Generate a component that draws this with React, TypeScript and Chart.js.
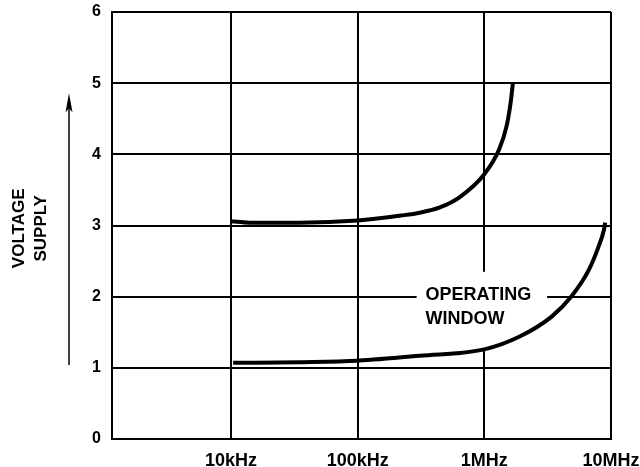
import React, { useEffect, useRef } from "react";
import { Chart, registerables } from "chart.js";

Chart.register(...registerables);

// ---- data ----
const xTickValues = [1e4, 1e5, 1e6, 1e7];
const xTickLabels = ["10kHz", "100kHz", "1MHz", "10MHz"];
const yTickLabels = ["0", "1", "2", "3", "4", "5", "6"];

const upperFreq = [1e4, 1.4e4, 3.5e4, 1e5, 2.2e5, 3.1e5, 4.4e5, 6.4e5, 1e6, 1.31e6, 1.5e6, 1.62e6, 1.68e6];
const upperVolt = [3.06, 3.04, 3.04, 3.07, 3.14, 3.18, 3.25, 3.4, 3.72, 4.07, 4.4, 4.75, 5.0];

const lowerFreq = [1.04e4, 3.5e4, 1e5, 3.1e5, 1e6, 1.9e6, 3.4e6, 4.9e6, 6.7e6, 8.0e6, 8.8e6, 9.0e6];
const lowerVolt = [1.07, 1.08, 1.1, 1.17, 1.26, 1.44, 1.72, 2.01, 2.38, 2.71, 2.94, 3.04];

const yTitleLines = ["VOLTAGE", "SUPPLY"];
const windowLabelLines = ["OPERATING", "WINDOW"];

// annotation placement (data units)
const windowBoxX = [2.92e5, 3.13e6];
const windowBoxY = [1.25, 2.35];
const windowTextX = 3.43e5;
const windowTextY = [1.95, 1.61];
const arrowY = [1.04, 4.86];
const yTitleCenter = 2.96;

const FONT = "'Liberation Sans', Arial, Helvetica, sans-serif";

const toPoints = (xs: number[], ys: number[]) => xs.map((x, i) => ({ x, y: ys[i] }));

const overlayPlugin = {
  id: "overlay",
  beforeDatasetsDraw(chart: any) {
    const { ctx, scales } = chart;
    const x = scales.x;
    const y = scales.y;
    const l = x.getPixelForValue(windowBoxX[0]);
    const r = x.getPixelForValue(windowBoxX[1]);
    const t = y.getPixelForValue(windowBoxY[1]);
    const b = y.getPixelForValue(windowBoxY[0]);
    ctx.save();
    ctx.fillStyle = "#ffffff";
    ctx.fillRect(l, t, r - l, b - t);
    ctx.restore();
  },
  afterDatasetsDraw(chart: any) {
    const { ctx, scales, chartArea } = chart;
    const x = scales.x;
    const y = scales.y;
    ctx.save();
    ctx.fillStyle = "#000";
    ctx.font = `bold 18px ${FONT}`;
    ctx.textAlign = "left";
    ctx.textBaseline = "alphabetic";
    windowLabelLines.forEach((s, i) => {
      ctx.fillText(s, x.getPixelForValue(windowTextX), y.getPixelForValue(windowTextY[i]));
    });

    // y title (rotated)
    ctx.font = `bold 17px ${FONT}`;
    const cy = y.getPixelForValue(yTitleCenter);
    const offsets = [chartArea.left - 93, chartArea.left - 71];
    ctx.textAlign = "center";
    ctx.textBaseline = "middle";
    yTitleLines.forEach((s, i) => {
      ctx.save();
      ctx.translate(offsets[i], cy);
      ctx.rotate(-Math.PI / 2);
      ctx.fillText(s, 0, 0);
      ctx.restore();
    });

    // arrow
    const ax = chartArea.left - 43;
    const yb = y.getPixelForValue(arrowY[0]);
    const yt = y.getPixelForValue(arrowY[1]);
    ctx.strokeStyle = "#000";
    ctx.lineWidth = 1.5;
    ctx.beginPath();
    ctx.moveTo(ax, yb);
    ctx.lineTo(ax, yt + 12);
    ctx.stroke();
    ctx.beginPath();
    ctx.moveTo(ax, yt);
    ctx.lineTo(ax - 3.5, yt + 19);
    ctx.lineTo(ax, yt + 15);
    ctx.lineTo(ax + 3.5, yt + 19);
    ctx.closePath();
    ctx.fill();
    ctx.restore();
  },
};

export default function App() {
  const ref = useRef<HTMLCanvasElement | null>(null);

  useEffect(() => {
    document.body.style.margin = "0";
    const canvas = ref.current!;
    const chart = new Chart(canvas, {
      type: "line",
      data: {
        datasets: [
          {
            data: toPoints(upperFreq, upperVolt),
            borderColor: "#000",
            borderWidth: 4,
            pointRadius: 0,
            cubicInterpolationMode: "monotone",
            fill: false,
          },
          {
            data: toPoints(lowerFreq, lowerVolt),
            borderColor: "#000",
            borderWidth: 4,
            pointRadius: 0,
            cubicInterpolationMode: "monotone",
            fill: false,
          },
        ],
      },
      options: {
        responsive: false,
        animation: false,
        devicePixelRatio: 1,
        layout: { padding: { top: 12, right: 29, left: 0, bottom: 0 } },
        plugins: {
          legend: { display: false },
          tooltip: { enabled: false },
        },
        scales: {
          x: {
            type: "logarithmic",
            min: 1150,
            max: 1e7,
            afterBuildTicks: (scale: any) => {
              scale.ticks = xTickValues.map((v) => ({ value: v }));
            },
            afterFit: (scale: any) => {
              scale.height = 28;
            },
            grid: {
              color: "#000",
              lineWidth: 2,
              drawTicks: true,
              tickLength: 11,
              tickColor: "rgba(0,0,0,0)",
            },
            border: { color: "#000", width: 2 },
            ticks: {
              autoSkip: false,
              maxRotation: 0,
              padding: 0,
              color: "#000",
              font: { family: FONT, size: 18, weight: "bold" },
              callback: (_v: any, i: number) => xTickLabels[i],
            },
          },
          y: {
            type: "linear",
            min: 0,
            max: 6,
            afterBuildTicks: (scale: any) => {
              scale.ticks = yTickLabels.map((_s, i) => ({ value: i }));
            },
            afterFit: (scale: any) => {
              scale.width = 112;
            },
            grid: {
              color: "#000",
              lineWidth: 2,
              drawTicks: true,
              tickLength: 11,
              tickColor: "rgba(0,0,0,0)",
            },
            border: { color: "#000", width: 2 },
            ticks: {
              padding: 0,
              color: "#000",
              font: { family: FONT, size: 16, weight: "bold" },
              callback: (_v: any, i: number) => yTickLabels[i],
            },
          },
        },
      },
      plugins: [overlayPlugin],
    } as any);
    return () => chart.destroy();
  }, []);

  return (
    <canvas
      ref={ref}
      width={640}
      height={467}
      style={{ display: "block", width: 640, height: 467 }}
    />
  );
}
